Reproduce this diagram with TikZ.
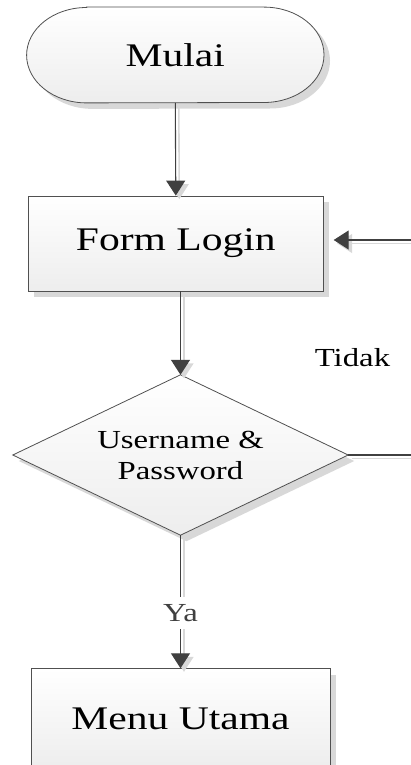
\documentclass[tikz,border=0pt]{standalone}
\usepackage{fontspec}
\setmainfont{Liberation Serif}[FakeStretch=1.26]
\usetikzlibrary{shadows,arrows.meta,backgrounds}

\definecolor{edge}{HTML}{505050}
\definecolor{conncol}{HTML}{404040}
\definecolor{shadecol}{HTML}{D8D8D8}

\tikzset{
  bigtext/.style={font=\fontsize{33}{38}\selectfont},
  smalltext/.style={font=\fontsize{26}{31}\selectfont},
  boxfill/.style={draw=edge, line width=0.8pt, top color=white, bottom color=gray!14,
    drop shadow={shadow xshift=6pt, shadow yshift=-6pt, fill=shadecol, opacity=1}},
  procbox/.style={boxfill, rectangle, inner sep=0pt, bigtext},
  conn/.style={draw=conncol, line width=1.1pt, -{Triangle[width=19pt,length=15pt]}, color=conncol},
  plainconn/.style={draw=conncol, line width=1.1pt},
  connshadow/.style={draw=shadecol, line width=1.6pt, -{Triangle[width=19pt,length=15pt]}, color=shadecol},
  plainshadow/.style={draw=shadecol, line width=1.6pt},
}

\begin{document}
\begin{tikzpicture}[x=1pt, y=1pt]
\useasboundingbox (0,0) rectangle (411,-765);

% start terminal: flat top and bottom, elliptical ends
\node[bigtext, minimum width=297pt, minimum height=95.4pt, inner sep=0pt] (mulai) at (175.3,-55) {Mulai};
\begin{scope}[on background layer]
  \path[boxfill]
    ([xshift=60pt]mulai.north west) -- ([xshift=-60pt]mulai.north east)
    arc[start angle=90, end angle=-90, x radius=60pt, y radius=47.7pt]
    -- ([xshift=60pt]mulai.south west)
    arc[start angle=270, end angle=90, x radius=60pt, y radius=47.7pt]
    -- cycle;
\end{scope}

\node[procbox, minimum width=295pt, minimum height=95pt] (form) at (175.8,-243.5) {Form Login};

% decision: text holder sized to the diamond, outline drawn behind it
\node[smalltext, align=center, minimum width=335pt, minimum height=160pt, inner sep=0pt] (dec) at (180.5,-455) {Username \&\\Password};
\begin{scope}[on background layer]
  \path[boxfill] (dec.north) -- (dec.east) -- (dec.south) -- (dec.west) -- cycle;
\end{scope}

\node[procbox, minimum width=299pt, minimum height=100pt] (menu) at (180.5,-718.7) {Menu Utama};

\node[smalltext, anchor=base] (tidak) at (352.5,-366.7) {Tidak};

\coordinate (inret) at (411,-240);
\coordinate (outret) at (411,-455);

% connector shadows
\begin{scope}[transform canvas={shift={(3.5pt,-3.5pt)}}]
  \draw[connshadow] (mulai.south) -- (form.north);
  \draw[connshadow] (form.south -| dec.north) -- (dec.north);
  \draw[connshadow] (inret) -- ([xshift=10pt]form.east |- inret);
  \draw[plainshadow] (dec.east) -- (outret);
  \draw[connshadow] (dec.south) -- (menu.north);
\end{scope}

% connectors
\draw[conn] (mulai.south) -- (form.north);
\draw[conn] (form.south -| dec.north) -- (dec.north);
\draw[conn] (inret) -- ([xshift=10pt]form.east |- inret);
\draw[plainconn] (dec.east) -- (outret);
\draw[conn] (dec.south) -- node[pos=0.585, fill=white, smalltext, inner sep=7pt] (ya) {Ya} (menu.north);
\end{tikzpicture}
\end{document}
